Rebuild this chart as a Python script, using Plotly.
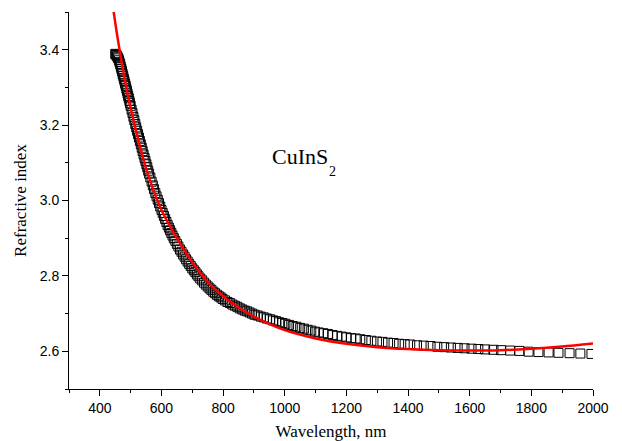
import plotly.graph_objects as go

# Measured refractive index of CuInS2 film (wavelength in nm)
wavelength_nm = [
    450, 452, 454, 456, 458, 460, 462, 464, 466, 468, 470, 472, 474, 476, 478,
    480, 482, 484, 486, 488, 490, 492, 494, 496, 498, 500,
    503, 506, 509, 512, 515, 518, 521, 524, 527, 530, 533, 536, 539, 542, 545,
    548, 551, 554, 557, 560,
    564, 568, 572, 576, 580, 584, 588, 592, 596, 600, 604, 608, 612, 616, 620,
    624, 628, 632, 636, 640,
    645, 650, 655, 660, 665, 670, 675, 680, 685, 690, 695, 700, 705, 710, 715, 720,
    726, 732, 738, 744, 750, 756, 762, 768, 774, 780, 786, 792, 798,
    806, 814, 822, 830, 838, 846, 854, 862, 870, 878, 886, 894, 902,
    912, 922, 932, 942, 952, 962, 972, 982, 992, 1002,
    1014, 1026, 1038, 1050, 1062, 1074, 1086, 1098, 1110,
    1125, 1140, 1155, 1170, 1185, 1200, 1215, 1230, 1245,
    1263, 1281, 1299, 1317, 1335, 1353, 1371, 1389, 1407,
    1429, 1451, 1473, 1495, 1517, 1539, 1561, 1583,
    1606, 1628, 1650, 1677, 1702, 1731, 1761, 1791, 1823, 1856, 1888, 1924,
    1959, 1995,
]
refractive_index = [
    3.389, 3.387, 3.386, 3.383, 3.380, 3.377, 3.372, 3.367, 3.362, 3.355, 3.349,
    3.343, 3.336, 3.330, 3.323, 3.317, 3.310, 3.304, 3.297, 3.291, 3.284, 3.277,
    3.271, 3.264, 3.258, 3.251,
    3.241, 3.232, 3.222, 3.213, 3.203, 3.194, 3.185, 3.176, 3.167, 3.158, 3.149,
    3.140, 3.131, 3.122, 3.113, 3.105, 3.096, 3.088, 3.079, 3.071,
    3.061, 3.050, 3.040, 3.030, 3.020, 3.011, 3.002, 2.993, 2.984, 2.975, 2.967,
    2.959, 2.951, 2.943, 2.935, 2.928, 2.921, 2.914, 2.907, 2.900,
    2.893, 2.885, 2.878, 2.870, 2.864, 2.857, 2.851, 2.844, 2.838, 2.832, 2.826,
    2.820, 2.815, 2.810, 2.804, 2.799,
    2.793, 2.788, 2.782, 2.777, 2.772, 2.767, 2.763, 2.758, 2.754, 2.750, 2.746,
    2.743, 2.739,
    2.735, 2.731, 2.728, 2.724, 2.721, 2.718, 2.714, 2.711, 2.708, 2.706, 2.703,
    2.700, 2.697,
    2.695, 2.692, 2.690, 2.687, 2.685, 2.682, 2.680, 2.677, 2.675, 2.673,
    2.670, 2.667, 2.665, 2.662, 2.660, 2.657, 2.655, 2.652, 2.650,
    2.648, 2.646, 2.643, 2.641, 2.639, 2.637, 2.635, 2.634, 2.632,
    2.630, 2.628, 2.626, 2.625, 2.623, 2.622, 2.620, 2.619, 2.618,
    2.616, 2.615, 2.614, 2.612, 2.611, 2.610, 2.609, 2.608,
    2.607, 2.606, 2.605, 2.604, 2.603, 2.602, 2.601, 2.599, 2.598, 2.597, 2.596,
    2.595, 2.594, 2.593,
]

# Dispersion fit curve
fit_wavelength_nm = [
    440, 445, 455, 465, 480, 500, 525, 550, 575, 600, 650, 700, 750, 800, 850,
    900, 1000, 1100, 1200, 1300, 1400, 1500, 1600, 1700, 1800, 1900, 2000,
]
fit_index = [
    3.529, 3.500, 3.445, 3.395, 3.325, 3.245, 3.160, 3.085, 3.025, 2.975, 2.900,
    2.836, 2.784, 2.746, 2.716, 2.692, 2.656, 2.634, 2.620, 2.611, 2.606, 2.603,
    2.602, 2.603, 2.607, 2.613, 2.621,
]

x_ticks = [400, 600, 800, 1000, 1200, 1400, 1600, 1800, 2000]
y_ticks = [2.6, 2.8, 3.0, 3.2, 3.4]

tick_font = dict(family="Liberation Sans, Arial, sans-serif", size=14, color="black")
title_font = dict(family="Liberation Serif, Times New Roman, serif", size=17, color="black")
serif = "Liberation Serif, Times New Roman, serif"

fig = go.Figure()
fig.add_trace(go.Scatter(
    x=wavelength_nm, y=refractive_index, mode="markers",
    marker=dict(symbol="square-open", size=9, color="black", line=dict(width=1)),
    showlegend=False,
))
fig.add_trace(go.Scatter(
    x=fit_wavelength_nm, y=fit_index, mode="lines",
    line=dict(color="#ff0000", width=2.5, shape="spline", smoothing=0.8),
    showlegend=False,
))

# Compound label with a lowered subscript
fig.add_annotation(
    x=1147, y=3.116, xref="x", yref="y", showarrow=False,
    xanchor="right", yanchor="middle",
    text="CuInS", font=dict(family=serif, size=22, color="black"),
)
fig.add_annotation(
    x=1147, y=3.078, xref="x", yref="y", showarrow=False,
    xanchor="left", yanchor="middle", xshift=-3,
    text="2", font=dict(family=serif, size=14, color="black"),
)

fig.update_xaxes(
    range=[300, 2000], showline=True, linecolor="black", linewidth=1,
    showgrid=False, zeroline=False, automargin=False,
    tickmode="array", tickvals=x_ticks, ticktext=[str(v) for v in x_ticks],
    ticks="outside", ticklen=6, tickwidth=1, tickcolor="black",
    tickfont=tick_font,
    minor=dict(tickmode="linear", tick0=300, dtick=100, ticks="outside",
               ticklen=3, tickwidth=1, tickcolor="black", showgrid=False),
    title=dict(text="Wavelength, nm", font=title_font, standoff=10),
)
fig.update_yaxes(
    range=[2.5, 3.5], showline=True, linecolor="black", linewidth=1,
    showgrid=False, zeroline=False, automargin=False,
    tickmode="array", tickvals=y_ticks, ticktext=[f"{v:.1f}" for v in y_ticks],
    ticks="outside", ticklen=6, tickwidth=1, tickcolor="black",
    tickfont=tick_font,
    minor=dict(tickmode="linear", tick0=2.5, dtick=0.1, ticks="outside",
               ticklen=3, tickwidth=1, tickcolor="black", showgrid=False),
    title=dict(text="Refractive index", font=title_font, standoff=8),
)

fig.update_layout(
    width=622, height=441,
    margin=dict(l=69, r=29, t=12, b=52),
    plot_bgcolor="white", paper_bgcolor="white",
)

fig.write_html("out.html")
